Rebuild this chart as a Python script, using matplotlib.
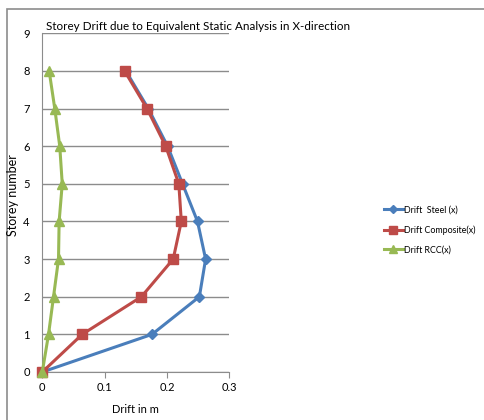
import matplotlib.pyplot as plt
from matplotlib.patches import Rectangle

plt.rcParams['font.family'] = ['Lato', 'DejaVu Sans']

# Storey drift values (m) from equivalent static analysis, X-direction
storeys = [0, 1, 2, 3, 4, 5, 6, 7, 8]
drift_steel = [0.0, 0.176, 0.252, 0.262, 0.249, 0.225, 0.201, 0.170, 0.134]
drift_composite = [0.0, 0.064, 0.159, 0.210, 0.223, 0.219, 0.198, 0.168, 0.132]
drift_rcc = [0.0, 0.010, 0.018, 0.026, 0.027, 0.032, 0.028, 0.020, 0.011]

series_labels = ['Drift  Steel (x)', 'Drift Composite(x)', 'Drift RCC(x)']
x_ticks = [0, 0.1, 0.2, 0.3]
y_ticks = [0, 1, 2, 3, 4, 5, 6, 7, 8, 9]

W, H = 484, 420
fig = plt.figure(figsize=(W / 100, H / 100), dpi=100)
fig.patches.append(Rectangle((7 / W, -0.05), 1.1, 1 - 9 / H + 0.05,
                             transform=fig.transFigure, fill=False,
                             edgecolor='#8c8c8c', linewidth=1.2))

ax = fig.add_axes([42.3 / W, 1 - 372 / H, 187 / W, 338.7 / H])

ax.plot(drift_steel, storeys, color='#4a7ebb', lw=2.2, marker='D', ms=5,
        label=series_labels[0], clip_on=False, zorder=3)
ax.plot(drift_composite, storeys, color='#be4b48', lw=2.2, marker='s', ms=6.5,
        label=series_labels[1], clip_on=False, zorder=4)
ax.plot(drift_rcc, storeys, color='#98b954', lw=2.2, marker='^', ms=6.5,
        label=series_labels[2], clip_on=False, zorder=5)

ax.set_xlim(0, 0.3)
ax.set_ylim(0, 9)
ax.set_xticks(x_ticks)
ax.set_xticklabels(['0', '0.1', '0.2', '0.3'])
ax.set_yticks(y_ticks)
ax.grid(axis='y', color='#8c8c8c', lw=1)
ax.set_axisbelow(True)
for side in ['top', 'right']:
    ax.spines[side].set_visible(False)
for side in ['left', 'bottom']:
    ax.spines[side].set_color('#8c8c8c')
ax.tick_params(axis='x', length=4, color='#8c8c8c', labelsize=8, pad=3)
ax.tick_params(axis='y', length=0, labelsize=8, pad=9)

ax.set_xlabel('Drift in m', fontsize=8, labelpad=8)
fig.text(13 / W, 1 - 195 / H, 'Storey number', rotation=90, fontsize=9,
         ha='center', va='center')
fig.text(198 / W, 1 - 27 / H,
         'Storey Drift due to Equivalent Static Analysis in X-direction',
         fontsize=8.4, ha='center', va='center')

fig.legend(loc='center left', bbox_to_anchor=(376 / W, 1 - 230 / H),
           frameon=False, fontsize=6.4, handlelength=2.1, labelspacing=1.2,
           handletextpad=0.1, markerscale=0.8)

fig.savefig('out.png', dpi=100)
